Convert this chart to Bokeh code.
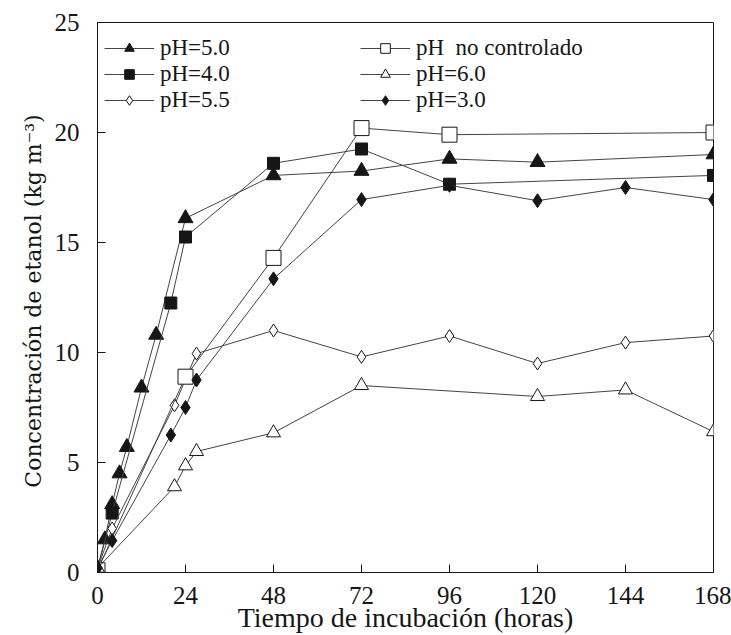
from bokeh.plotting import figure
from bokeh.models import Range1d, FixedTicker, Legend, LegendItem
from bokeh.embed import file_html
from bokeh.resources import INLINE

# ---- data ----
t_ph50 = [0, 2, 4, 6, 8, 12, 16, 24, 48, 72, 96, 120, 168]
c_ph50 = [0.2, 1.5, 3.1, 4.5, 5.7, 8.4, 10.8, 16.1, 18.05, 18.25, 18.8, 18.65, 19.0]

t_ph40 = [0, 4, 20, 24, 48, 72, 96, 168]
c_ph40 = [0.15, 2.7, 12.25, 15.25, 18.6, 19.25, 17.65, 18.05]

t_nc = [0, 24, 48, 72, 96, 168]
c_nc = [0.1, 8.9, 14.3, 20.2, 19.9, 20.0]

t_ph60 = [0, 21, 24, 27, 48, 72, 120, 144, 168]
c_ph60 = [0.2, 3.9, 4.85, 5.5, 6.35, 8.5, 8.0, 8.3, 6.4]

t_ph55 = [0, 4, 21, 27, 48, 72, 96, 120, 144, 168]
c_ph55 = [0.2, 2.0, 7.6, 9.95, 11.0, 9.8, 10.75, 9.5, 10.45, 10.75]

t_ph30 = [0, 4, 20, 24, 27, 48, 72, 96, 120, 144, 168]
c_ph30 = [0.2, 1.45, 6.25, 7.5, 8.75, 13.35, 16.95, 17.6, 16.9, 17.5, 16.95]

x_ticks = [0, 24, 48, 72, 96, 120, 144, 168]
y_ticks = [0, 5, 10, 15, 20, 25]

labels_col1 = ["pH=5.0", "pH=4.0", "pH=5.5"]
labels_col2 = ["pH  no controlado", "pH=6.0", "pH=3.0"]
x_title = "Tiempo de incubación (horas)"
y_title = "Concentración de etanol  (kg m\u207b\u00b3)"

FONT = "'Liberation Serif', 'Times New Roman', serif"
AXFONT = "Times New Roman"
INK = "#161616"
LINE = "#444444"

p = figure(width=731, height=635, x_range=Range1d(0, 168), y_range=Range1d(0, 25),
           output_backend="svg", toolbar_location=None,
           min_border_left=97, min_border_right=18, min_border_top=22, min_border_bottom=63)
p.background_fill_color = "white"
p.border_fill_color = "white"
p.outline_line_color = INK
p.outline_line_width = 1
p.grid.visible = False

p.xaxis.ticker = FixedTicker(ticks=x_ticks)
p.yaxis.ticker = FixedTicker(ticks=y_ticks)
for ax in (p.xaxis[0], p.yaxis[0]):
    ax.major_tick_in = 8
    ax.major_tick_out = 0
    ax.minor_tick_in = 0
    ax.minor_tick_out = 0
    ax.axis_line_color = INK
    ax.major_tick_line_color = INK
    ax.major_label_text_font = AXFONT
    ax.major_label_text_font_size = "25px"
    ax.major_label_text_color = INK
    ax.axis_label_text_font_style = "normal"
    ax.axis_label_text_color = INK

p.xaxis[0].axis_label_text_font = AXFONT
p.xaxis[0].axis_label_text_font_size = "28px"
p.yaxis[0].axis_label_text_font = "DejaVu Serif"
p.yaxis[0].axis_label_text_font_size = "22px"

p.xaxis.major_label_standoff = 14
p.yaxis.major_label_standoff = 18

p.yaxis.axis_label = y_title
p.yaxis.axis_label_standoff = 6
p.xaxis.axis_label = x_title
p.xaxis.axis_label_standoff = -5

series = [
    (t_ph50, c_ph50, "triangle", 15, INK),
    (t_ph40, c_ph40, "square", 12, INK),
    (t_ph55, c_ph55, "diamond", 13, "white"),
    (t_nc, c_nc, "square", 15, "white"),
    (t_ph60, c_ph60, "triangle", 14, "white"),
    (t_ph30, c_ph30, "diamond", 14, INK),
]
items = []
for t, c, mk, sz, fill in series:
    ln = p.line(t, c, line_color=LINE, line_width=1)
    sc = p.scatter(t, c, marker=mk, size=sz, fill_color=fill, line_color=INK, line_width=1)
    items.append([ln, sc])

def make_legend(labels, rends, loc):
    lg = Legend(items=[LegendItem(label=l, renderers=r) for l, r in zip(labels, rends)],
                location=loc, orientation="vertical")
    lg.label_text_font = FONT
    lg.label_text_font_size = "23px"
    lg.label_text_color = INK
    lg.glyph_width = 50
    lg.glyph_height = 24
    lg.label_height = 24
    lg.label_standoff = 6
    lg.spacing = 0
    lg.padding = 0
    lg.margin = 0
    lg.border_line_alpha = 0
    lg.background_fill_alpha = 0
    return lg

p.add_layout(make_legend(labels_col1, items[0:3], (7, 459)), "center")
p.add_layout(make_legend(labels_col2, items[3:6], (263, 459)), "center")

open("out.html", "w").write(file_html(p, INLINE))
